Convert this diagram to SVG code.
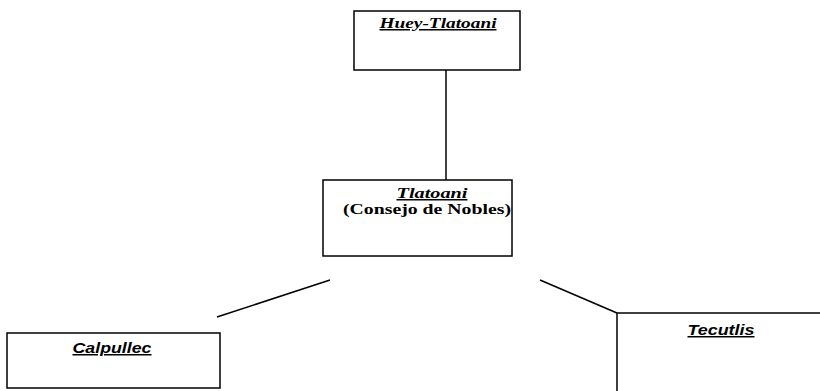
<svg xmlns="http://www.w3.org/2000/svg" width="820" height="391" viewBox="0 0 820 391">
<style>
.box{fill:#fff;stroke:#000;stroke-width:1.5}
.conn{stroke:#000;stroke-width:1.5;fill:none}
.serif{font-family:"Liberation Serif","Times New Roman",serif;font-weight:bold;font-size:15px;fill:#000}
.sans{font-family:"Liberation Sans",Arial,sans-serif;font-weight:bold;font-style:italic;font-size:15px;fill:#000;text-decoration:underline}
.it{font-style:italic;text-decoration:underline}
</style>
<rect width="820" height="391" fill="#fff"/>
<g id="connectors">
<line class="conn" x1="446" y1="70" x2="446" y2="190"/>
<line class="conn" x1="217" y1="317" x2="330" y2="280"/>
<line class="conn" x1="540" y1="280" x2="617" y2="313"/>
</g>
<g id="huey">
<rect class="box" x="354" y="11" width="166" height="59"/>
<text class="serif it" x="438" y="28" text-anchor="middle" textLength="117" lengthAdjust="spacingAndGlyphs">Huey-Tlatoani</text>
</g>
<g id="tlatoani">
<rect class="box" x="323" y="180" width="189" height="76"/>
<text class="serif it" x="432" y="198" text-anchor="middle" textLength="71" lengthAdjust="spacingAndGlyphs">Tlatoani</text>
<text class="serif" x="427" y="214" text-anchor="middle" textLength="168" lengthAdjust="spacingAndGlyphs">(Consejo de Nobles)</text>
</g>
<g id="calpullec">
<rect class="box" x="7" y="333" width="213" height="55"/>
<text class="sans" x="112" y="353" text-anchor="middle" textLength="79" lengthAdjust="spacingAndGlyphs">Calpullec</text>
</g>
<g id="tecutlis">
<path class="box" d="M820,313 H617 V391"/>
<text class="sans" x="721" y="335" text-anchor="middle" textLength="67" lengthAdjust="spacingAndGlyphs">Tecutlis</text>
</g>
</svg>
